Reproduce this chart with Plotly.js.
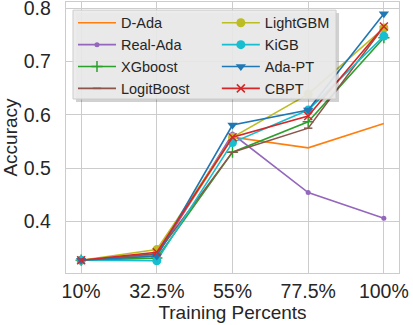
<!DOCTYPE html>
<html>
<head>
<meta charset="utf-8">
<script src="https://cdn.plot.ly/plotly-3.0.1.min.js"></script>
<style>
  html, body { margin: 0; padding: 0; background: #fff; }
  #chartDiv { width: 413px; height: 325px; }
</style>
</head>
<body>
<div id="chartDiv"></div>
<script>
// Accuracy vs training percent

var percents = ['10%', '32.5%', '55%', '77.5%', '100%'];

var dAda       = [0.327, 0.338, 0.558, 0.538, 0.584];
var realAda    = [0.327, 0.335, 0.564, 0.454, 0.406];
var xgboost    = [0.327, 0.331, 0.530, 0.587, 0.745];
var logitBoost = [0.327, 0.339, 0.530, 0.575, 0.766];
var lightGBM   = [0.327, 0.347, 0.558, 0.639, 0.763];
var kiGB       = [0.327, 0.326, 0.548, 0.609, 0.748];
var adaPT      = [0.327, 0.335, 0.581, 0.609, 0.790];
var cbpt       = [0.327, 0.342, 0.558, 0.598, 0.766];

var names = ['D-Ada', 'Real-Ada', 'XGboost', 'LogitBoost', 'LightGBM', 'KiGB', 'Ada-PT', 'CBPT'];
var series = [dAda, realAda, xgboost, logitBoost, lightGBM, kiGB, adaPT, cbpt];

var colors = ['#ff7f0e', '#9467bd', '#2ca02c', '#8c564b', '#bcbd22', '#17becf', '#1f77b4', '#d62728'];
var symbols = ['circle', 'circle', 'cross-thin', 'line-ew', 'circle', 'circle', 'triangle-down', 'x-thin'];
var sizes = [0, 5, 8, 6, 9, 9, 9, 8];
// two legend columns, like matplotlib ncol=2
var legendCol = ['legend', 'legend', 'legend', 'legend', 'legend2', 'legend2', 'legend2', 'legend2'];

var font = 'Liberation Sans, Arial, sans-serif';

var dataGraph = names.map(function(name, i) {
  var thin = symbols[i] == 'cross-thin' || symbols[i] == 'x-thin' || symbols[i] == 'line-ew';
  return {
    type: 'scatter',
    x: percents,
    y: series[i],
    name: name,
    mode: sizes[i] ? 'lines+markers' : 'lines',
    legend: legendCol[i],
    line: { color: colors[i], width: 1.6 },
    marker: {
      symbol: symbols[i],
      size: sizes[i],
      color: colors[i],
      line: { color: colors[i], width: thin ? 1.5 : 0 }
    }
  };
});

// legend box (drawn as shapes so it can have a shadow)
var lx0 = 0.021, lx1 = 0.811, ly0 = 0.642, ly1 = 0.970;

function legendCfg(x) {
  return {
    orientation: 'v',
    x: x, y: 0.982,
    xanchor: 'left', yanchor: 'top',
    bgcolor: 'rgba(0,0,0,0)',
    borderwidth: 0,
    tracegroupgap: 0,
    itemwidth: 38,
    font: { family: font, size: 14.5, color: '#262626' }
  };
}

var layoutGraph = {
  width: 413,
  height: 325,
  margin: { l: 66, r: 14, t: 2, b: 52 },
  paper_bgcolor: '#fff',
  plot_bgcolor: '#fff',
  font: { family: font, size: 19.5, color: '#262626' },
  showlegend: true,
  legend: legendCfg(0.021),
  legend2: legendCfg(0.453),
  xaxis: {
    type: 'category',
    range: [-0.2, 4.2],
    showgrid: true,
    gridcolor: '#cccccc',
    gridwidth: 1,
    showline: true,
    mirror: true,
    linecolor: '#cccccc',
    linewidth: 1.3,
    ticks: '',
    ticklabelstandoff: 0,
    title: { text: 'Training Percents', standoff: 1, font: { size: 19 } },
    zeroline: false
  },
  yaxis: {
    range: [0.303, 0.812],
    tick0: 0,
    dtick: 0.1,
    tickformat: '.1f',
    ticklabeloverflow: 'allow',
    showgrid: true,
    gridcolor: '#cccccc',
    gridwidth: 1,
    showline: true,
    mirror: true,
    linecolor: '#cccccc',
    linewidth: 1.3,
    ticks: '',
    ticklabelstandoff: 10,
    title: { text: 'Accuracy', standoff: 11, font: { size: 19 } },
    zeroline: false
  },
  shapes: [
    {
      type: 'rect', xref: 'paper', yref: 'paper', layer: 'above',
      x0: lx0 + 0.009, x1: lx1 + 0.009, y0: ly0 - 0.011, y1: ly1 - 0.011,
      fillcolor: 'rgba(0,0,0,0.18)', line: { width: 0 }
    },
    {
      type: 'rect', xref: 'paper', yref: 'paper', layer: 'above',
      x0: lx0, x1: lx1, y0: ly0, y1: ly1,
      fillcolor: 'rgba(234,234,234,0.92)', line: { color: '#cccccc', width: 1 }
    }
  ]
};

var options = { displayModeBar: false, staticPlot: true };

Plotly.newPlot('chartDiv', dataGraph, layoutGraph, options);
</script>
</body>
</html>
